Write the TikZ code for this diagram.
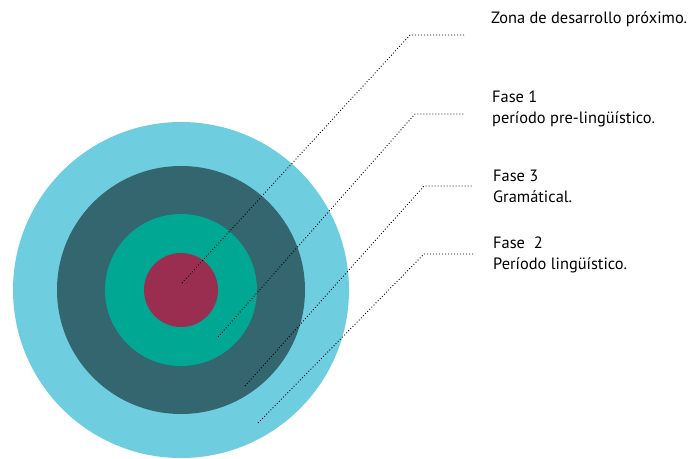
\documentclass[tikz,border=0pt]{standalone}
\usepackage{fontspec}
\setmainfont{PT Sans}
\usetikzlibrary{positioning}
\definecolor{celeste}{HTML}{6FCDE0}
\definecolor{petroleo}{HTML}{33666F}
\definecolor{verde}{HTML}{00A894}
\definecolor{granate}{HTML}{992E50}

\begin{document}
\begin{tikzpicture}[x=1pt, y=-1pt]
 \tikzstyle{ring} = [circle, inner sep=0pt, draw=none]
 \tikzstyle{txt}  = [anchor=base west, inner sep=0pt, font=\fontsize{16.4}{21}\selectfont]
 \tikzstyle{guia} = [line width=0.9pt, dash pattern=on 0.9pt off 2.1pt]

 \useasboundingbox (0,0) rectangle (698,458);

 % anillos
 \node [ring, fill=celeste,  minimum size=336pt] (Z1) at (181,290) {};
 \node [ring, fill=petroleo, minimum size=248pt] (Z2) at (181,290) {};
 \node [ring, fill=verde,    minimum size=152pt] (Z3) at (181,290) {};
 \node [ring, fill=granate,  minimum size=74pt]  (Z4) at (181,290) {};

 % textos
 \node [txt] (T1) at (491,23) {Zona de desarrollo próximo.};
 \node [txt] (F1a) at (492,102) {Fase 1};
 \node [txt, below=21pt of F1a.base west, anchor=base west] (F1b) {período pre-lingüístico.};
 \node [txt] (F3a) at (493,181) {Fase 3};
 \node [txt, below=21pt of F3a.base west, anchor=base west] (F3b) {Gramátical.};
 \node [txt] (F2a) at (493,248) {Fase\ \ 2};
 \node [txt, below=21pt of F2a.base west, anchor=base west] (F2b) {Período lingüístico.};

 % guias
 \coordinate (p1) at (182,283); \coordinate (k1) at (410,35);  \coordinate (e1) at (465,35);
 \coordinate (p2) at (218,337); \coordinate (k2) at (415,114); \coordinate (e2) at (465,114);
 \coordinate (p3) at (245,386); \coordinate (k3) at (424,186); \coordinate (e3) at (473,186);
 \coordinate (p4) at (258,423); \coordinate (k4) at (424,254); \coordinate (e4) at (473,254);
 \draw [guia] (p1) -- (k1) -- (e1);
 \draw [guia] (p2) -- (k2) -- (e2);
 \draw [guia] (p3) -- (k3) -- (e3);
 \draw [guia] (p4) -- (k4) -- (e4);
\end{tikzpicture}
\end{document}
